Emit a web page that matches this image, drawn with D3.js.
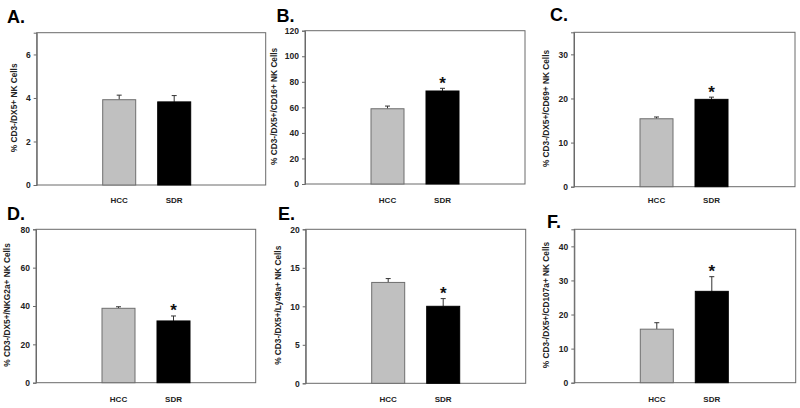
<!DOCTYPE html>
<html><head><meta charset="utf-8">
<script src="https://cdn.jsdelivr.net/npm/d3@7"></script>
<style>
body{margin:0;background:#fff;}
svg{display:block;}
text{font-family:"Liberation Sans",Arial,sans-serif;}
</style></head>
<body>
<svg id="chart" width="800" height="408"></svg>
<script>
// ---- data ----
const categories = ["HCC", "SDR"];
const panelLetters = ["A.", "B.", "C.", "D.", "E.", "F."];
const yTitles = [
  "% CD3-/DX5+ NK Cells",
  "% CD3-/DX5+/CD16+ NK Cells",
  "% CD3-/DX5+/CD69+ NK Cells",
  "% CD3-/DX5+/NKG2a+ NK Cells",
  "% CD3-/DX5+/Ly49a+ NK Cells",
  "% CD3-/DX5+/CD107a+ NK Cells"
];
const hccValues = [3.92, 58.9, 15.4, 38.8, 13.1, 15.7];
const sdrValues = [3.82, 72.8, 19.8, 32.2, 10.0, 26.8];
const hccErrors = [0.21, 2.1, 0.4, 0.8, 0.5, 1.9];
const sdrErrors = [0.29, 2.1, 0.5, 2.6, 1.0, 4.3];
const yMax = [7, 120, 35, 80, 20, 45];
const yTicks = [
  [0, 2, 4, 6],
  [0, 20, 40, 60, 80, 100, 120],
  [0, 10, 20, 30],
  [0, 20, 40, 60, 80],
  [0, 5, 10, 15, 20],
  [0, 10, 20, 30, 40]
];
const significant = [false, true, true, true, true, true];

// ---- layout (positions only) ----
const boxes = [
  {l: 36.7, t: 32.7, r: 265.7, b: 185},
  {l: 305, t: 30.7, r: 525, b: 184},
  {l: 574, t: 32.3, r: 795, b: 186.7},
  {l: 36, t: 229.3, r: 255.7, b: 382.7},
  {l: 305.7, t: 229.3, r: 525.7, b: 383.3},
  {l: 574.3, t: 229.3, r: 795.7, b: 382.7}
];
const letterPos = [[7, 23], [276.5, 22], [550, 21], [7, 220], [278, 220], [547, 228]];
const titleOffset = [22, 30, 27, 28, 27, 27];
const catBaseline = [203, 203, 203, 402, 402, 402];
const colors = {HCC: "#c0c0c0", SDR: "#000000"};
const strokes = {HCC: "#6e6e6e", SDR: "#000000"};

const svg = d3.select("#chart");

boxes.forEach((bx, i) => {
  const g = svg.append("g");
  const y = d3.scaleLinear().domain([0, yMax[i]]).range([bx.b, bx.t]);
  const x = d3.scaleBand().domain(categories)
    .range([bx.l + 55, bx.l + 165]).paddingInner(0.4).paddingOuter(0.2);

  // frame
  g.append("rect").attr("x", bx.l).attr("y", bx.t)
    .attr("width", bx.r - bx.l).attr("height", bx.b - bx.t)
    .attr("fill", "none").attr("stroke", "#6a6a6a").attr("stroke-width", 1);

  // y axis
  const ya = g.append("g").attr("transform", `translate(${bx.l},0)`)
    .call(d3.axisLeft(y).tickValues(yTicks[i]).tickSize(3).tickPadding(3).tickFormat(d3.format("d")));
  ya.select(".domain").attr("stroke", "#6a6a6a");
  ya.selectAll(".tick line").attr("stroke", "#6a6a6a");
  ya.selectAll(".tick text").attr("font-family", "'Liberation Sans',Arial,sans-serif")
    .attr("font-size", 8.5).attr("font-weight", "bold").attr("fill", "#222");

  // x category labels
  categories.forEach(c => {
    g.append("text").attr("x", x(c) + x.bandwidth() / 2).attr("y", catBaseline[i])
      .attr("text-anchor", "middle").attr("font-size", 8).attr("font-weight", "bold")
      .attr("fill", "#222").text(c);
  });

  const vals = {HCC: hccValues[i], SDR: sdrValues[i]};
  const errs = {HCC: hccErrors[i], SDR: sdrErrors[i]};

  categories.forEach(c => {
    const cx = x(c) + x.bandwidth() / 2;
    const et = y(vals[c] + errs[c]);
    // error bar (upper)
    g.append("line").attr("x1", cx).attr("x2", cx).attr("y1", y(vals[c])).attr("y2", et)
      .attr("stroke", "#333").attr("stroke-width", 1);
    g.append("line").attr("x1", cx - 2.5).attr("x2", cx + 2.5).attr("y1", et).attr("y2", et)
      .attr("stroke", "#333").attr("stroke-width", 1);
    // bar
    g.append("rect").attr("x", x(c)).attr("y", y(vals[c]))
      .attr("width", x.bandwidth()).attr("height", y(0) - y(vals[c]))
      .attr("fill", colors[c]).attr("stroke", strokes[c]).attr("stroke-width", 1);
  });

  if (significant[i]) {
    const cx = x("SDR") + x.bandwidth() / 2;
    g.append("text").attr("x", cx).attr("y", y(sdrValues[i] + sdrErrors[i]) + 0.5)
      .attr("text-anchor", "middle").attr("font-size", 17).attr("font-weight", "bold")
      .attr("fill", "#111").text("*");
  }

  // y title
  const ty = (bx.t + bx.b) / 2 - 1;
  g.append("text").attr("transform", `translate(${bx.l - titleOffset[i]},${ty}) rotate(-90)`)
    .attr("text-anchor", "middle").attr("dominant-baseline", "middle")
    .attr("font-size", 8.3).attr("font-weight", "bold").attr("fill", "#222").text(yTitles[i]);

  // panel letter
  svg.append("text").attr("x", letterPos[i][0]).attr("y", letterPos[i][1])
    .attr("font-size", 18).attr("font-weight", "bold").attr("fill", "#000").text(panelLetters[i]);
});
</script>
</body></html>
